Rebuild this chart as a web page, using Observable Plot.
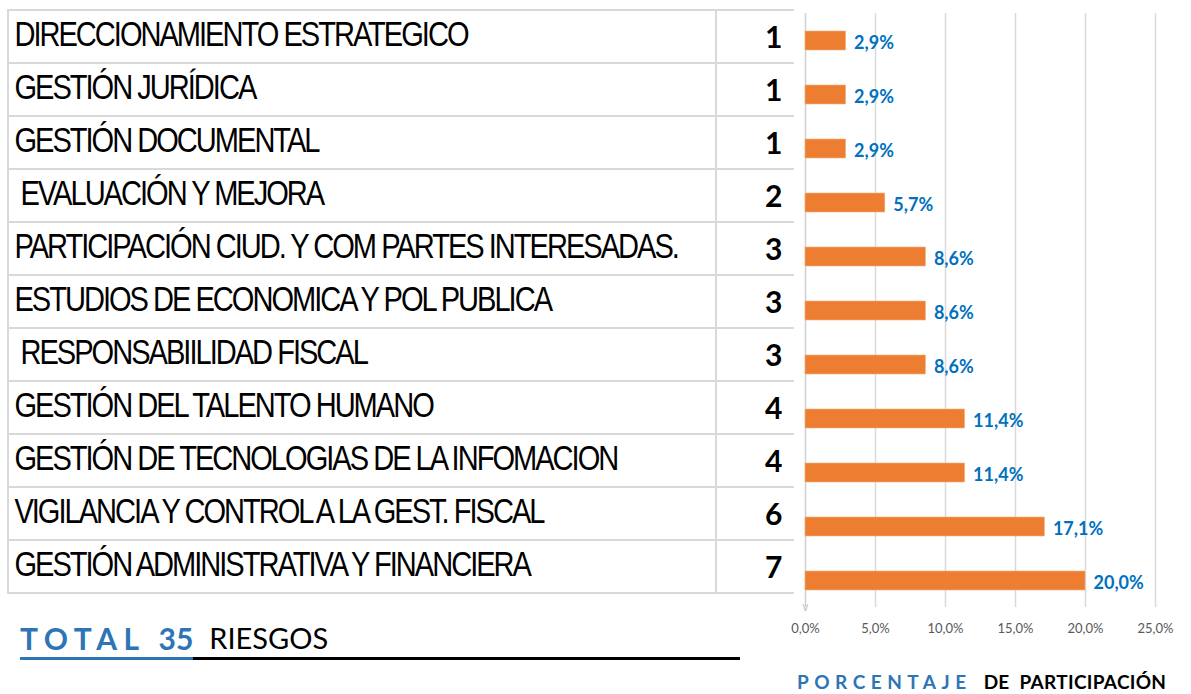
<!DOCTYPE html>
<html>
<head>
<meta charset="utf-8">
<script src="https://cdn.jsdelivr.net/npm/d3@7"></script>
<script src="https://cdn.jsdelivr.net/npm/@observablehq/plot@0.6"></script>
<style>
  html, body { margin: 0; padding: 0; background: #fff; }
  #wrap { position: relative; width: 1191px; height: 694px; overflow: hidden; background: #fff; }
  .layer { position: absolute; top: 0; }
  .layer svg { max-width: none !important; }
  #nametext { left: 14px; transform: scaleX(0.83); transform-origin: 0 0; }
  #total { position: absolute; left: 20px; top: 623px; width: 720px; display: flex; line-height: 30px; font-family: Lato, sans-serif; font-size: 30px; white-space: pre; }
  #total .t1 { color: #2E75B6; font-weight: 700; border-bottom: 3px solid #2E75B6; padding-bottom: 4px; }
  #total .sp { letter-spacing: 6.5px; }
  #total .t2 { color: #000; font-weight: 400; font-size: 29px; flex: 1; border-bottom: 3px solid #000; padding-bottom: 4px; padding-left: 16px; }
  #xtitle { position: absolute; left: 797px; top: 673px; line-height: 18px; font-family: Lato, sans-serif; font-size: 19px; font-weight: 700; white-space: nowrap; }
  #xtitle .b { color: #2E75B6; letter-spacing: 5.5px; }
  #xtitle .k { color: #000; word-spacing: 5px; margin-left: 12px; letter-spacing: 0.3px; }
</style>
</head>
<body>
<div id="wrap">
  <div id="bars" class="layer" style="left:0"></div>
  <div id="namegrid" class="layer" style="left:0"></div>
  <div id="nametext" class="layer"></div>
  <div id="counts" class="layer" style="left:716px;width:78px;height:694px;overflow:hidden"></div>
  <div id="total"><span class="t1"><span class="sp">TOTAL </span>35</span><span class="t2">RIESGOS</span></div>
  <div id="xtitle"><span class="b">PORCENTAJE</span><span class="k">DE PARTICIPACIÓN</span></div>
</div>
<script>
const categories = [
  "DIRECCIONAMIENTO ESTRATEGICO",
  "GESTIÓN JURÍDICA",
  "GESTIÓN DOCUMENTAL",
  " EVALUACIÓN Y MEJORA",
  "PARTICIPACIÓN CIUD. Y COM PARTES INTERESADAS.",
  "ESTUDIOS DE ECONOMICA Y POL PUBLICA",
  " RESPONSABIILIDAD FISCAL",
  "GESTIÓN DEL TALENTO HUMANO",
  "GESTIÓN DE TECNOLOGIAS DE LA INFOMACION",
  "VIGILANCIA Y CONTROL A LA GEST. FISCAL",
  "GESTIÓN ADMINISTRATIVA Y FINANCIERA"
];
const counts = [1, 1, 1, 2, 3, 3, 3, 4, 4, 6, 7];
const percents = [2.9, 2.9, 2.9, 5.7, 8.6, 8.6, 8.6, 11.4, 11.4, 17.1, 20.0];
const xTicks = [0, 5, 10, 15, 20, 25];

const rows = categories.map((name, i) => ({name, count: counts[i], pct: percents[i]}));
const fmt = d => d.toFixed(1).replace(".", ",") + "%";
const baseStyle = {background: "transparent", overflow: "visible", maxWidth: "none"};

const bars = Plot.plot({
  width: 1191, height: 640,
  marginLeft: 805, marginRight: 36, marginTop: 13, marginBottom: 33,
  style: {...baseStyle, fontFamily: "Lato, sans-serif", fontSize: "13px", color: "#595959"},
  x: {domain: [0, 25], ticks: xTicks, tickFormat: fmt, tickSize: 0, tickPadding: 16, label: null},
  y: {type: "band", domain: categories, paddingInner: 0.65, paddingOuter: 0.325, axis: null},
  marks: [
    Plot.ruleX(xTicks.filter(d => d > 0), {stroke: "#d9d9d9", strokeWidth: 1.5}),
    Plot.ruleX([0], {stroke: "#d0d0d0", strokeWidth: 1.5}),
    Plot.text([0], {x: d => d, frameAnchor: "bottom", text: () => "∨", lineAnchor: "bottom", dy: 3, fill: "#c8c8c8", fontFamily: "DejaVu Sans", fontSize: 12}),
    Plot.barX(rows, {x: "pct", y: "name", fill: "#ED7D31", stroke: "#F4B183", strokeWidth: 0.6}),
    Plot.text(rows, {x: "pct", y: "name", text: d => fmt(d.pct), dx: 8, dy: 2, textAnchor: "start", fill: "#0070C0", fontWeight: "bold", fontSize: 18})
  ]
});
document.getElementById("bars").appendChild(bars);

const grid = Plot.plot({
  width: 716, height: 694,
  marginLeft: 8, marginRight: 0, marginTop: 10, marginBottom: 101,
  style: baseStyle,
  y: {type: "band", domain: categories, padding: 0, axis: null},
  marks: [
    Plot.cell(rows, {y: "name", fill: "none", stroke: "#d9d9d9", strokeWidth: 2})
  ]
});
document.getElementById("namegrid").appendChild(grid);

const nameText = Plot.plot({
  width: 860, height: 694,
  marginLeft: 0, marginRight: 0, marginTop: 10, marginBottom: 101,
  style: baseStyle,
  y: {type: "band", domain: categories, padding: 0, axis: null},
  marks: [
    Plot.text(rows, {y: "name", text: "name", frameAnchor: "left", textAnchor: "start", dy: -2, fill: "#000", fontFamily: "Liberation Sans, Arial, sans-serif", fontSize: 35})
  ]
});
d3.select(nameText).selectAll('g[aria-label="text"] text').style("letter-spacing", "-2.4px");
document.getElementById("nametext").appendChild(nameText);

const cnt = Plot.plot({
  width: 90, height: 694,
  marginLeft: 0, marginRight: 0, marginTop: 10, marginBottom: 101,
  style: baseStyle,
  y: {type: "band", domain: categories, padding: 0, axis: null},
  marks: [
    Plot.cell(rows, {y: "name", fill: "none", stroke: "#d9d9d9", strokeWidth: 2}),
    Plot.text(rows, {y: "name", text: d => String(d.count), frameAnchor: "right", textAnchor: "end", dx: -24, dy: 1, fill: "#000", fontFamily: "Lato, sans-serif", fontWeight: "bold", fontSize: 30})
  ]
});
document.getElementById("counts").appendChild(cnt);
</script>
</body>
</html>
